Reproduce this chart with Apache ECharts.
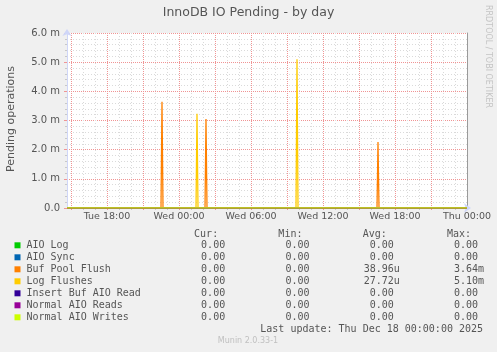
<!DOCTYPE html>
<html><head><meta charset="utf-8">
<script src="https://cdn.jsdelivr.net/npm/echarts@6/dist/echarts.min.js"></script>
<style>html,body{margin:0;padding:0;background:#f0f0f0}#c{width:497px;height:352px}</style>
</head><body><div id="c"></div>
<script>
// ---- data (values in milli-operations, "m") ----
const seriesNames = ['AIO Log','AIO Sync','Buf Pool Flush','Log Flushes','Insert Buf AIO Read','Normal AIO Reads','Normal AIO Writes'];
const seriesColors = ['#00cc00','#0066b3','#ff8000','#ffcc00','#330099','#990099','#ccff00'];
const rangeStart = '2025-12-16T14:40:00Z';
const rangeEnd = '2025-12-18T00:00:00Z';
const zeroTimes = [rangeStart, rangeEnd];
const zeroValues = [0, 0];
const bufPoolFlushTimes = [rangeStart,
  '2025-12-16T22:30:00Z','2025-12-16T22:35:00Z','2025-12-16T22:40:00Z',
  '2025-12-17T02:10:00Z','2025-12-17T02:15:00Z','2025-12-17T02:20:00Z',
  '2025-12-17T16:30:00Z','2025-12-17T16:35:00Z','2025-12-17T16:40:00Z',
  rangeEnd];
const bufPoolFlushValues = [0, 0, 3.64, 0, 0, 3.05, 0, 0, 2.26, 0, 0];
const logFlushesTimes = [rangeStart,
  '2025-12-17T01:25:00Z','2025-12-17T01:30:00Z','2025-12-17T01:35:00Z',
  '2025-12-17T09:45:00Z','2025-12-17T09:50:00Z','2025-12-17T09:55:00Z',
  rangeEnd];
const logFlushesValues = [0, 0, 3.23, 0, 0, 5.10, 0, 0];
const curValues = ['0.00','0.00','0.00','0.00','0.00','0.00','0.00'];
const minValues = ['0.00','0.00','0.00','0.00','0.00','0.00','0.00'];
const avgValues = ['0.00','0.00','38.96u','27.72u','0.00','0.00','0.00'];
const maxValues = ['0.00','0.00','3.64m','5.10m','0.00','0.00','0.00'];
const yTickLabels = ['0.0','1.0 m','2.0 m','3.0 m','4.0 m','5.0 m','6.0 m'];
const xLabelTimes = ['2025-12-16T18:00:00Z','2025-12-17T00:00:00Z','2025-12-17T06:00:00Z','2025-12-17T12:00:00Z','2025-12-17T18:00:00Z','2025-12-18T00:00:00Z'];
const xTickLabels = ['Tue 18:00','Wed 00:00','Wed 06:00','Wed 12:00','Wed 18:00','Thu 00:00'];
const lastUpdate = 'Last update: Thu Dec 18 00:00:00 2025';

// ---- build ----
const seriesTimes = [zeroTimes, zeroTimes, bufPoolFlushTimes, logFlushesTimes, zeroTimes, zeroTimes, zeroTimes];
const seriesValues = [zeroValues, zeroValues, bufPoolFlushValues, logFlushesValues, zeroValues, zeroValues, zeroValues];
const startMs = Date.parse(rangeStart), endMs = Date.parse(rangeEnd);
const H = 3600e3;
const hourTicks = [], majorTicks = [];
for (let t = Date.parse('2025-12-16T15:00:00Z'); t <= endMs; t += H) {
  if (((t / H) % 3) === 0) majorTicks.push(t); else hourTicks.push(t);
}
const xLabelMs = xLabelTimes.map(s => Date.parse(s));
const SANS = 'DejaVu Sans', MONO = 'DejaVu Sans Mono';
const TXT = '#555';
const GRID_MINOR = '#dadada', GRID_MAJOR = '#f09494', AXIS = '#cfd6f8';

const field = v => (/[a-z]$/.test(v) ? v : v + ' ').padStart(14);
const header = ' '.repeat(20) + ['Cur:','Min:','Avg:','Max:'].map(h => (h + '  ').padStart(14)).join('');

const chart = echarts.init(document.getElementById('c'), null, {renderer: 'canvas'});
chart.setOption({
  animation: false,
  backgroundColor: '#f0f0f0',
  title: {text: 'InnoDB IO Pending - by day', left: 'center', top: 6, padding: 0,
    textStyle: {fontFamily: SANS, fontSize: 12.5, fontWeight: 'normal', color: TXT}},
  grid: {left: 67, top: 33, width: 400, height: 175, show: true, backgroundColor: '#ffffff', borderWidth: 0},
  legend: {
    orient: 'vertical', left: 14.5, top: 239.3, padding: 0, itemGap: 0,
    itemWidth: 6, itemHeight: 6, icon: 'rect', selectedMode: false,
    data: seriesNames,
    textStyle: {fontFamily: MONO, fontSize: 10, color: TXT, lineHeight: 12, padding: [0, 0, 0, 1]},
    formatter: name => {
      const i = seriesNames.indexOf(name);
      return name.padEnd(20) + field(curValues[i]) + field(minValues[i]) + field(avgValues[i]) + field(maxValues[i]);
    }
  },
  xAxis: [{
    type: 'value', min: startMs, max: endMs, position: 'bottom',
    axisLine: {show: true, lineStyle: {color: AXIS}, symbol: ['none', 'arrow'], symbolSize: [7, 7], symbolOffset: [0, 4]},
    axisTick: {show: true, customValues: hourTicks, length: 2, lineStyle: {color: '#c8c8c8'}},
    axisLabel: {customValues: xLabelMs, margin: 4, fontFamily: SANS, fontSize: 9.5, color: TXT,
      formatter: v => xTickLabels[xLabelMs.indexOf(v)] || ''},
    splitLine: {show: true, lineStyle: {color: GRID_MINOR, type: [1, 2]}}
  }, {
    type: 'value', min: startMs, max: endMs, position: 'bottom',
    axisLine: {show: false},
    axisTick: {show: true, customValues: majorTicks, length: 2, lineStyle: {color: GRID_MAJOR}},
    axisLabel: {show: false},
    splitLine: {show: true, lineStyle: {color: GRID_MAJOR, type: [1, 1]}}
  }],
  yAxis: [{
    type: 'value', min: 0, max: 6, interval: 1,
    axisLine: {show: true, lineStyle: {color: AXIS}, symbol: ['none', 'arrow'], symbolSize: [7, 7], symbolOffset: [0, 4]},
    axisTick: {show: true, length: 3, lineStyle: {color: GRID_MAJOR}},
    minorTick: {show: true, splitNumber: 5, length: 2, lineStyle: {color: '#c8c8c8'}},
    axisLabel: {margin: 7, fontFamily: SANS, fontSize: 10, color: TXT, formatter: v => yTickLabels[Math.round(v)]},
    splitLine: {show: true, lineStyle: {color: GRID_MAJOR, type: [1, 1]}},
    minorSplitLine: {show: true, lineStyle: {color: GRID_MINOR, type: [1, 2]}}
  }, {
    type: 'value', min: 0, max: 6, interval: 1, position: 'right',
    axisLine: {show: true, lineStyle: {color: '#9a9a9a'}},
    axisTick: {show: false}, axisLabel: {show: false}, splitLine: {show: false}
  }],
  series: seriesNames.map((n, i) => ({
    name: n, type: 'line', xAxisIndex: 0, yAxisIndex: 0, symbol: 'none', color: seriesColors[i],
    lineStyle: {width: 1.3, color: seriesColors[i]},
    data: seriesTimes[i].map((t, j) => [Date.parse(t), seriesValues[i][j]])
  })),
  graphic: [
    {type: 'text', left: 25.5, top: 229, style: {text: header, font: '10px "DejaVu Sans Mono"', fill: TXT}},
    {type: 'text', left: 25.5 + 39 * 6.02, top: 324, style: {text: lastUpdate, font: '10px "DejaVu Sans Mono"', fill: TXT}},
    {type: 'text', x: 248, y: 341, style: {text: 'Munin 2.0.33-1', font: '8px "DejaVu Sans"', fill: '#c0c0c0', align: 'center', verticalAlign: 'middle'}},
    {type: 'text', x: 11, y: 119, rotation: Math.PI / 2, style: {text: 'Pending operations', font: '11px "DejaVu Sans"', fill: TXT, align: 'center', verticalAlign: 'middle'}},
    {type: 'text', x: 488.5, y: 56.5, rotation: -Math.PI / 2, style: {text: 'RRDTOOL / TOBI OETIKER', font: '8px "DejaVu Sans"', fill: '#c4c4c4', align: 'center', verticalAlign: 'middle'}}
  ]
});
</script></body></html>
